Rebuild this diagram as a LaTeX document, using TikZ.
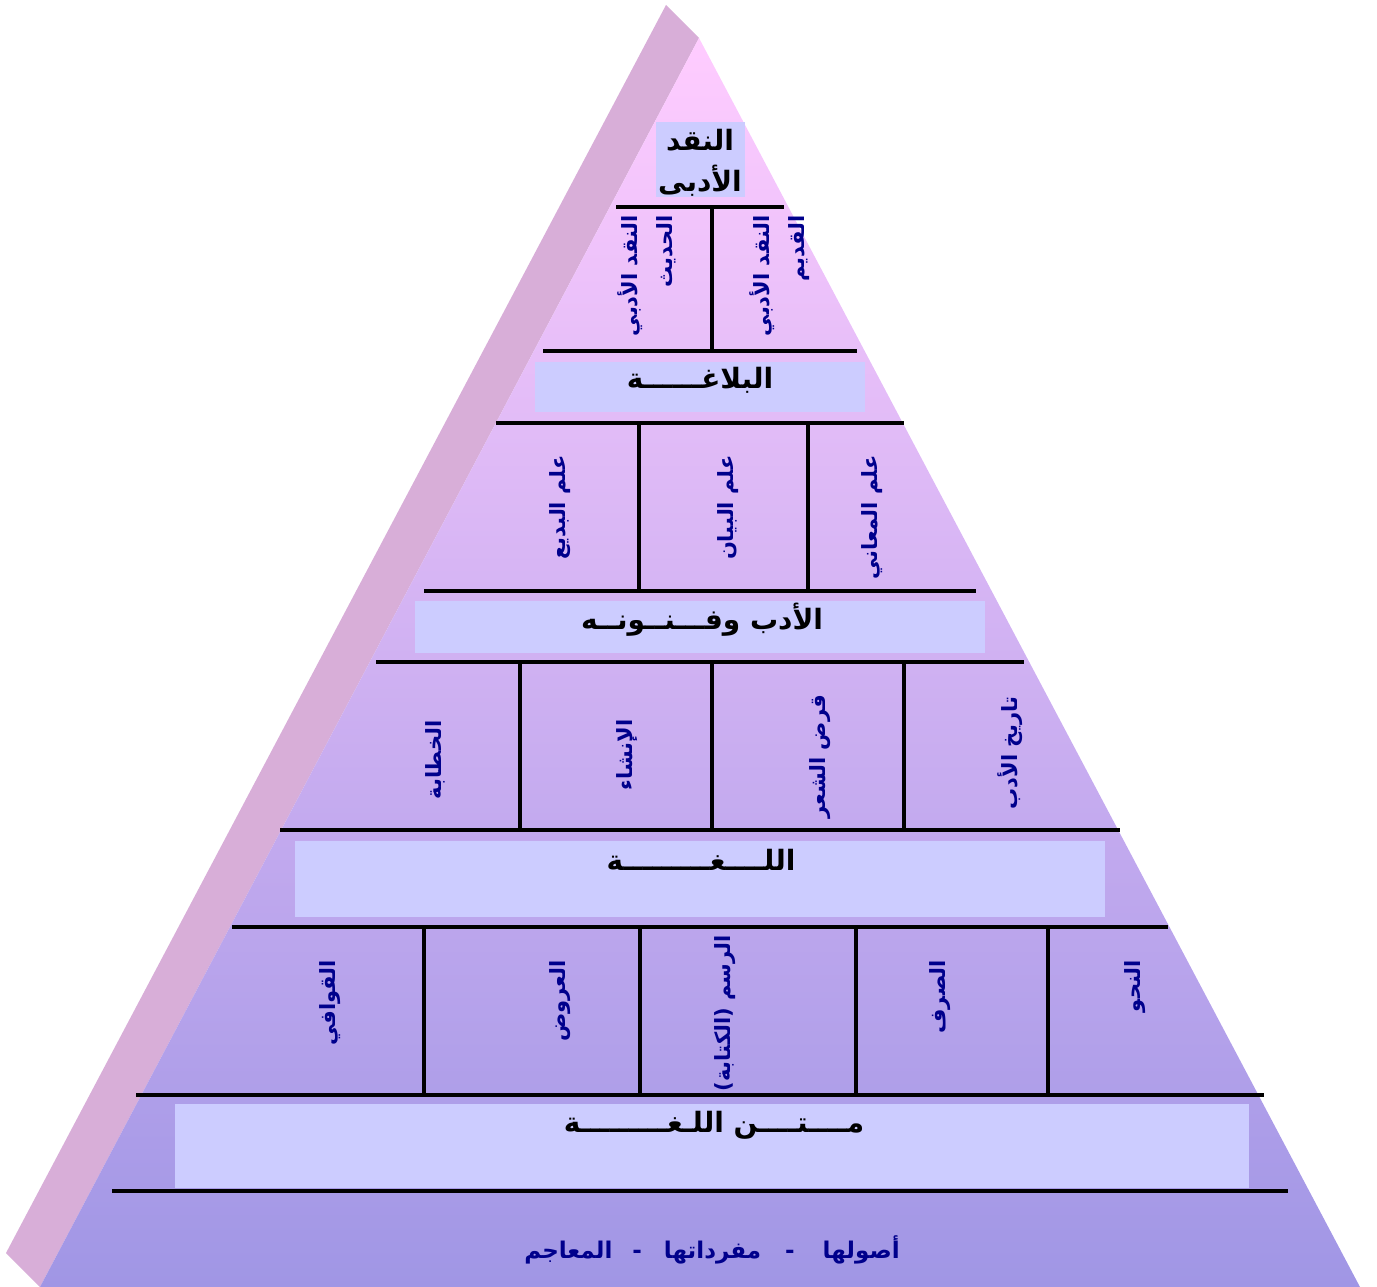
\documentclass[tikz,border=0pt]{standalone}
\usepackage{fontspec}
\TeXXeTstate=1
\newfontfamily\arabicfont[Script=Arabic]{DejaVu Sans}
\definecolor{sidec}{RGB}{216,174,216}
\definecolor{fronttop}{RGB}{255,204,255}
\definecolor{frontbot}{RGB}{160,150,229}
\definecolor{boxc}{RGB}{204,204,255}
\definecolor{navyc}{RGB}{0,0,140}
\begin{document}
\begin{tikzpicture}[x=1pt,y=-1pt,
  sep/.style={line width=4pt, black},
  lbox/.style={fill=boxc},
  hdr/.style={font=\arabicfont\bfseries\fontsize{28}{41}\selectfont, text=black, inner sep=0pt, align=center},
  vtxt/.style={font=\arabicfont\bfseries\fontsize{21}{35}\selectfont, text=navyc, rotate=90, inner sep=0pt, align=right, anchor=east},
  btxt/.style={font=\arabicfont\bfseries\fontsize{23}{30}\selectfont, text=navyc, inner sep=0pt}]
\useasboundingbox (0,0) rectangle (1377,1287);
% pyramid faces
\fill[sidec] (666,5) -- (699,38) -- (40,1287) -- (6,1253) -- cycle;
\shade[top color=fronttop, bottom color=frontbot] (699,38) -- (1360,1287) -- (40,1287) -- cycle;
% label boxes
\fill[lbox] (656,122) rectangle (745,197);
\fill[lbox] (535,362) rectangle (865,412);
\fill[lbox] (415,601) rectangle (985,653);
\fill[lbox] (295,841) rectangle (1105,917);
\fill[lbox] (175,1104) rectangle (1249,1188);
% separator lines
\draw[sep] (616,207) -- (784,207);
\draw[sep] (712,207) -- (712,351);
\draw[sep] (543,351) -- (857,351);
\draw[sep] (496,423) -- (904,423);
\draw[sep] (639,423) -- (639,591);
\draw[sep] (808,423) -- (808,591);
\draw[sep] (424,591) -- (976,591);
\draw[sep] (376,662) -- (1024,662);
\draw[sep] (520,662) -- (520,830);
\draw[sep] (712,662) -- (712,830);
\draw[sep] (904,662) -- (904,830);
\draw[sep] (280,830) -- (1120,830);
\draw[sep] (232,927) -- (1168,927);
\draw[sep] (424,927) -- (424,1095);
\draw[sep] (640,927) -- (640,1095);
\draw[sep] (856,927) -- (856,1095);
\draw[sep] (1048,927) -- (1048,1095);
\draw[sep] (136,1095) -- (1264,1095);
\draw[sep] (112,1191) -- (1288,1191);
% top box text (clipped)
\begin{scope}
\clip (656,122) rectangle (745,197);
\node[hdr] (naqd) at (700,163) {\beginR النقد\endR\\\beginR الأدبى\endR};
\end{scope}
% header labels
\node[hdr] (balagha) at (700,380) {\beginR البلاغــــــة\endR};
\node[hdr] (adab) at (702,620) {\beginR الأدب وفـــنــونــه\endR};
\node[hdr] (lugha) at (701,860) {\beginR اللــــغـــــــــة\endR};
\node[hdr] (matn) at (714,1125) {\beginR مــــتــــن اللـغـــــــــة\endR};
% row 1
\node[vtxt] (hadith) at (647,215) {\beginR النقد الأدبي\endR\\\beginR الحديث\endR};
\node[vtxt] (qadim) at (780,215) {\beginR النقد الأدبي\endR\\\beginR القديم\endR};
% row 2
\node[vtxt] (badi) at (560,455) {\beginR علم البديع\endR};
\node[vtxt] (bayan) at (728,455) {\beginR علم البيان\endR};
\node[vtxt] (maani) at (872,455) {\beginR علم المعاني\endR};
% row 3
\node[vtxt, anchor=center] (khitaba) at (435,760) {\beginR الخطابة\endR};
\node[vtxt, anchor=center] (insha) at (627,755) {\beginR الإنشاء\endR};
\node[vtxt, anchor=center] (qard) at (820,757) {\beginR قرض الشعر\endR};
\node[vtxt, anchor=center] (tarikh) at (1010,753) {\beginR تاريخ الأدب\endR};
% row 5
\node[vtxt] (qawafi) at (330,960) {\beginR القوافي\endR};
\node[vtxt] (arud) at (560,960) {\beginR العروض\endR};
\node[vtxt] (rasm) at (725,935) {\beginR الرسم (الكتابة)\endR};
\node[vtxt] (sarf) at (940,960) {\beginR الصرف\endR};
\node[vtxt] (nahw) at (1135,960) {\beginR النحو\endR};
% bottom
\node[btxt] (usul) at (712,1250) {\beginR أصولها\hspace{28pt}-\hspace{24pt}مفرداتها\hspace{22pt}-\hspace{20pt}المعاجم\endR};
\end{tikzpicture}
\end{document}
